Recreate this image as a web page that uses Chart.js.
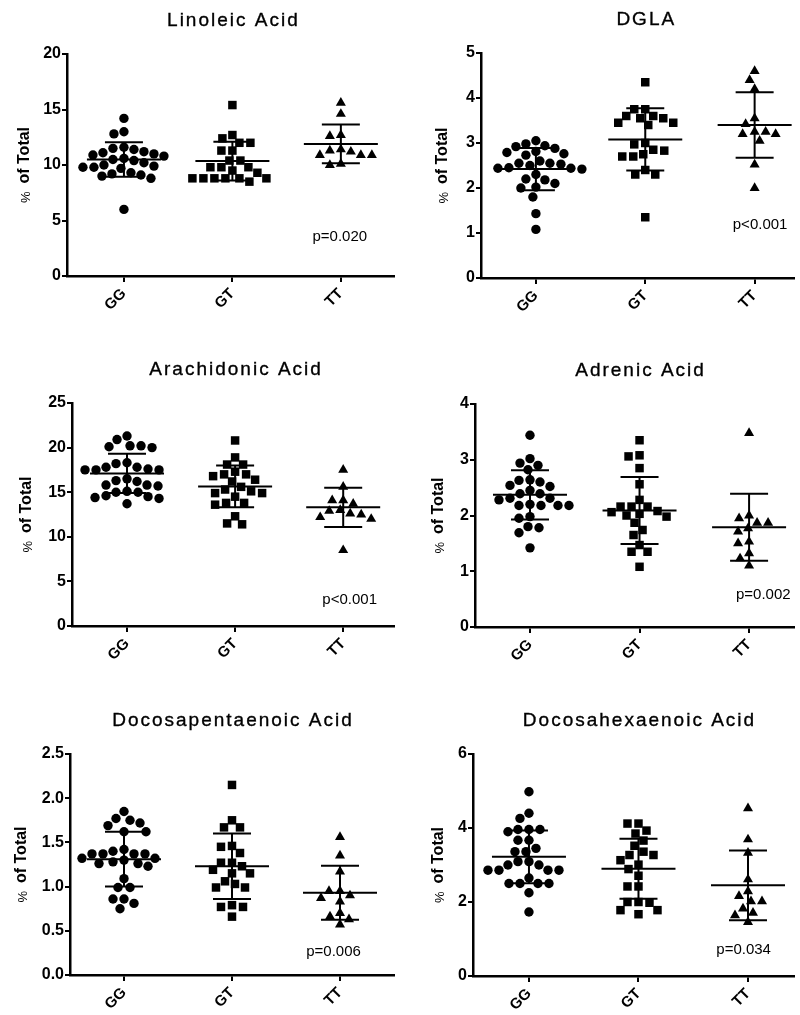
<!DOCTYPE html>
<html>
<head>
<meta charset="utf-8">
<script src="https://cdn.jsdelivr.net/npm/chart.js@4"></script>
<style>
  html, body { margin: 0; padding: 0; background: #fff; }
  #wrap { position: relative; width: 800px; height: 1015px; overflow: hidden; }
  canvas { position: absolute; }
</style>
</head>
<body>
<div id="wrap">
  <canvas id="c1" width="400" height="335" style="left:0;top:0"></canvas>
  <canvas id="c2" width="400" height="335" style="left:400px;top:0"></canvas>
  <canvas id="c3" width="400" height="335" style="left:0;top:340px"></canvas>
  <canvas id="c4" width="400" height="335" style="left:400px;top:340px"></canvas>
  <canvas id="c5" width="400" height="335" style="left:0;top:680px"></canvas>
  <canvas id="c6" width="400" height="335" style="left:400px;top:680px"></canvas>
</div>
<script>
const categories = ["GG", "GT", "TT"];

// Linoleic Acid
const linoleicGG = [14.2, 13.0, 12.8, 11.6, 11.5, 11.4, 11.2, 11.1, 11.0, 10.9, 10.8, 10.6,
  10.5, 10.4, 10.2, 10.0, 9.9, 9.8, 9.8, 9.7, 9.3, 9.2, 9.1, 9.0, 8.8, 6.0];
const linoleicGT = [15.4, 12.7, 12.4, 12.0, 12.0, 11.3, 11.3, 10.4, 10.4, 9.8, 9.8, 9.8,
  9.5, 9.3, 8.8, 8.8, 8.8, 8.8, 8.8, 8.8, 8.5];
const linoleicTT = [15.6, 14.6, 12.7, 12.6, 11.4, 11.3, 11.2, 10.9, 10.9, 10.9, 10.1, 10.0];
const linoleicMean = [10.5, 10.35, 11.9];
const linoleicSD = [1.55, 1.75, 1.75];

// DGLA
const dglaGG = [3.05, 2.98, 2.94, 2.92, 2.88, 2.81, 2.79, 2.76, 2.73, 2.6, 2.55, 2.55, 2.53,
  2.5, 2.45, 2.44, 2.44, 2.42, 2.3, 2.2, 2.18, 2.1, 2.02, 2.0, 1.8, 1.43, 1.08];
const dglaGT = [4.35, 3.75, 3.75, 3.6, 3.6, 3.55, 3.55, 3.45, 3.45, 3.4, 3.0, 2.97, 2.85,
  2.83, 2.75, 2.7, 2.7, 2.4, 2.3, 2.3, 1.35];
const dglaTT = [4.6, 4.4, 4.2, 3.55, 3.42, 3.25, 3.25, 3.2, 3.2, 3.05, 2.52, 2.0];
const dglaMean = [2.42, 3.08, 3.4];
const dglaSD = [0.47, 0.69, 0.73];

// Arachidonic Acid
const arachidonicGG = [21.3, 20.9, 20.2, 20.1, 20.0, 20.2, 18.3, 18.2, 17.8, 17.6, 17.5, 17.5,
  17.5, 17.8, 16.5, 16.2, 16.3, 15.8, 15.7, 15.8, 15.1, 15.0, 15.0, 14.6, 14.5, 14.4, 14.3, 13.7];
const arachidonicGT = [20.8, 18.9, 18.1, 18.1, 17.3, 17.0, 17.0, 16.8, 16.4, 16.2, 15.6, 15.3,
  15.1, 14.9, 14.9, 14.5, 13.8, 13.8, 13.6, 12.3, 11.5, 11.4];
const arachidonicTT = [17.5, 15.6, 14.1, 14.1, 13.7, 13.0, 12.9, 12.6, 12.5, 12.2, 12.0, 8.5];
const arachidonicMean = [17.1, 15.65, 13.3];
const arachidonicSD = [2.2, 2.35, 2.2];

// Adrenic Acid
const adrenicGG = [3.44, 3.02, 2.94, 2.9, 2.82, 2.64, 2.63, 2.6, 2.54, 2.52, 2.45, 2.39, 2.39,
  2.31, 2.31, 2.28, 2.2, 2.18, 2.18, 2.18, 2.18, 1.98, 1.95, 1.8, 1.78, 1.69, 1.42];
const adrenicGT = [3.35, 3.08, 3.06, 2.85, 2.56, 2.28, 2.16, 2.16, 2.16, 2.08, 2.06, 2.03, 2.0,
  1.98, 1.87, 1.74, 1.65, 1.47, 1.35, 1.35, 1.08];
const adrenicTT = [3.48, 2.0, 1.95, 1.87, 1.87, 1.77, 1.71, 1.53, 1.5, 1.32, 1.23, 1.1];
const adrenicMean = [2.37, 2.09, 1.79];
const adrenicSD = [0.44, 0.6, 0.6];

// Docosapentaenoic Acid
const dpaGG = [1.85, 1.77, 1.75, 1.72, 1.69, 1.62, 1.62, 1.42, 1.4, 1.37, 1.37, 1.37, 1.37,
  1.32, 1.32, 1.3, 1.28, 1.26, 1.26, 1.23, 1.09, 0.99, 0.99, 0.86, 0.86, 0.81, 0.75];
const dpaGT = [2.15, 1.75, 1.67, 1.67, 1.46, 1.45, 1.38, 1.27, 1.27, 1.23, 1.19, 1.15, 1.15,
  1.06, 1.03, 0.99, 0.99, 0.79, 0.77, 0.77, 0.66];
const dpaTT = [1.56, 1.35, 1.17, 0.95, 0.95, 0.9, 0.87, 0.83, 0.7, 0.66, 0.63, 0.57];
const dpaMean = [1.31, 1.23, 0.93];
const dpaSD = [0.31, 0.37, 0.305];

// Docosahexaenoic Acid
const dhaGG = [4.98, 4.4, 4.26, 3.96, 3.96, 3.96, 3.9, 3.67, 3.67, 3.45, 3.36, 3.36, 3.09,
  3.09, 3.0, 3.0, 2.86, 2.86, 2.86, 2.86, 2.65, 2.5, 2.5, 2.5, 2.5, 2.25, 1.73];
const dhaGT = [4.12, 4.12, 3.93, 3.85, 3.66, 3.52, 3.36, 3.27, 3.27, 3.13, 3.01, 2.89, 2.71,
  2.42, 2.42, 2.0, 2.0, 1.98, 1.78, 1.78, 1.67];
const dhaTT = [4.53, 3.69, 3.33, 2.61, 2.29, 2.16, 2.02, 2.02, 1.82, 1.71, 1.64, 1.46];
const dhaMean = [3.22, 2.9, 2.45];
const dhaSD = [0.715, 0.81, 0.94];

const titles = ["Linoleic Acid", "DGLA", "Arachidonic Acid", "Adrenic Acid",
  "Docosapentaenoic Acid", "Docosahexaenoic Acid"];
const pLabels = ["p=0.020", "p<0.001", "p<0.001", "p=0.002", "p=0.006", "p=0.034"];
const yMaxes = [20, 5, 25, 4, 2.5, 6];
const ySteps = [5, 1, 5, 1, 0.5, 2];

const panels = [
  { id: "c1", groups: [linoleicGG, linoleicGT, linoleicTT], means: linoleicMean, sds: linoleicSD },
  { id: "c2", groups: [dglaGG, dglaGT, dglaTT], means: dglaMean, sds: dglaSD },
  { id: "c3", groups: [arachidonicGG, arachidonicGT, arachidonicTT], means: arachidonicMean, sds: arachidonicSD },
  { id: "c4", groups: [adrenicGG, adrenicGT, adrenicTT], means: adrenicMean, sds: adrenicSD },
  { id: "c5", groups: [dpaGG, dpaGT, dpaTT], means: dpaMean, sds: dpaSD },
  { id: "c6", groups: [dhaGG, dhaGT, dhaTT], means: dhaMean, sds: dhaSD },
];

// where each plot sits inside its canvas
const layouts = [
  { left: 67, top: 54, bottom: 276, xMin: -0.525, xMax: 2.49, yTitleX: 25, pX: 1.99, pY: 3.5 },
  { left: 81, top: 53, bottom: 278, xMin: -0.502, xMax: 2.36, yTitleX: 43, pX: 2.05, pY: 1.18 },
  { left: 72, top: 63, bottom: 286, xMin: -0.509, xMax: 2.47, yTitleX: 27, pX: 2.06, pY: 2.9 },
  { left: 75, top: 64, bottom: 287, xMin: -0.502, xMax: 2.41, yTitleX: 39, pX: 2.13, pY: 0.57 },
  { left: 70, top: 74, bottom: 295, xMin: -0.5, xMax: 2.5, yTitleX: 22, pX: 1.94, pY: 0.26 },
  { left: 73, top: 74, bottom: 296, xMin: -0.511, xMax: 2.42, yTitleX: 39, pX: 1.96, pY: 0.7 },
];

const pointStyles = ["circle", "rect", "triangle"];
const pointSizes = [4.7, 6.0, 5.8];
const FONT = '"Liberation Sans", Arial, sans-serif';

Chart.defaults.font.family = FONT;
Chart.defaults.color = "#000";

// spread points sideways so they do not overlap (pixel space)
function swarmOffsets(values, pxPerY, pxPerX, diameter) {
  const order = values.map((v, i) => i).sort((a, b) => values[b] - values[a]);
  const placed = [];
  const offsets = new Array(values.length).fill(0);
  order.forEach((i) => {
    const py = values[i] * pxPerY;
    let best = 0;
    for (let step = 0; step < 300; step++) {
      const cands = step === 0 ? [0] : [-step, step];
      const hit = cands.find((c) =>
        placed.every((p) => (p.x - c) ** 2 + (p.y - py) ** 2 >= diameter * diameter)
      );
      if (hit !== undefined) {
        best = hit;
        break;
      }
    }
    placed.push({ x: best, y: py });
    offsets[i] = best / pxPerX;
  });
  return offsets;
}

const panelDecor = {
  id: "panelDecor",
  afterDatasetsDraw(chart, args, opts) {
    const { ctx, chartArea, scales } = chart;
    const x = scales.x;
    const y = scales.y;
    ctx.save();
    ctx.strokeStyle = "#000";
    ctx.lineWidth = 2;
    const seg = (x1, y1, x2, y2) => {
      ctx.beginPath();
      ctx.moveTo(x1, y1);
      ctx.lineTo(x2, y2);
      ctx.stroke();
    };
    opts.means.forEach((m, i) => {
      const cx = x.getPixelForValue(i);
      const ym = y.getPixelForValue(m);
      const yu = y.getPixelForValue(m + opts.sds[i]);
      const yl = y.getPixelForValue(m - opts.sds[i]);
      seg(cx - 37, ym, cx + 37, ym);
      seg(cx - 19, yu, cx + 19, yu);
      seg(cx - 19, yl, cx + 19, yl);
      seg(cx, yu, cx, yl);
    });

    ctx.fillStyle = "#000";
    ctx.textAlign = "center";
    ctx.textBaseline = "middle";
    ctx.font = "15px " + FONT;
    ctx.fillText(opts.pText, x.getPixelForValue(opts.pX), y.getPixelForValue(opts.pY));

    // y axis title: small plain "%" then bold "of Total"
    ctx.save();
    ctx.translate(opts.yTitleX, (chartArea.top + chartArea.bottom) / 2);
    ctx.rotate(-Math.PI / 2);
    ctx.textAlign = "left";
    ctx.font = "13px " + FONT;
    const wPct = ctx.measureText("%").width;
    ctx.font = "bold 16px " + FONT;
    const wRest = ctx.measureText("of Total").width;
    const gap = 8;
    const start = -(wPct + gap + wRest) / 2;
    ctx.font = "13px " + FONT;
    ctx.fillText("%", start, 1);
    ctx.font = "bold 16px " + FONT;
    ctx.fillText("of Total", start + wPct + gap, 0);
    ctx.restore();

    ctx.font = "19px " + FONT;
    ctx.letterSpacing = "2px";
    ctx.lineWidth = 0.35;
    const tx = x.getPixelForValue(1) + 1;
    const ty = chartArea.top - 33;
    ctx.fillText(opts.title, tx, ty);
    ctx.strokeText(opts.title, tx, ty);
    ctx.restore();
  },
};

panels.forEach((panel, k) => {
  const lay = layouts[k];
  const canvas = document.getElementById(panel.id);
  const H = canvas.height;
  const decimals = ySteps[k] < 1 ? 1 : 0;

  const chart = new Chart(canvas, {
    type: "scatter",
    data: {
      datasets: panel.groups.map((vals, g) => ({
        data: vals.map((v) => ({ x: g, y: v })),
        pointStyle: pointStyles[g],
        pointRadius: pointSizes[g],
        pointBackgroundColor: "#000",
        pointBorderColor: "#000",
        pointBorderWidth: 0,
      })),
    },
    options: {
      responsive: false,
      animation: false,
      events: [],
      layout: { padding: { left: 0, right: 0, top: lay.top, bottom: 0 } },
      plugins: {
        legend: { display: false },
        tooltip: { enabled: false },
        panelDecor: {
          means: panel.means,
          sds: panel.sds,
          title: titles[k],
          pText: pLabels[k],
          pX: lay.pX,
          pY: lay.pY,
          yTitleX: lay.yTitleX,
        },
      },
      scales: {
        x: {
          type: "linear",
          min: lay.xMin,
          max: lay.xMax,
          afterBuildTicks: (scale) => {
            scale.ticks = categories.map((c, i) => ({ value: i }));
          },
          afterFit: (scale) => {
            scale.height = H - lay.bottom;
            scale.paddingLeft = 0;
            scale.paddingRight = 0;
          },
          border: { display: true, color: "#000", width: 2.5 },
          grid: { display: true, drawOnChartArea: false, drawTicks: true, tickLength: 6, color: "#000", lineWidth: 2 },
          ticks: {
            autoSkip: false,
            minRotation: 45,
            maxRotation: 45,
            padding: 3,
            font: { size: 15, weight: "bold" },
            callback: (v) => categories[v],
          },
        },
        y: {
          min: 0,
          max: yMaxes[k],
          afterFit: (scale) => {
            scale.width = lay.left;
            scale.paddingTop = 0;
            scale.paddingBottom = 0;
          },
          border: { display: true, color: "#000", width: 2.5 },
          grid: { display: true, drawOnChartArea: false, drawTicks: true, tickLength: 5, color: "#000", lineWidth: 2 },
          ticks: {
            stepSize: ySteps[k],
            padding: 1,
            font: { size: 16, weight: "bold" },
            callback: (v) => Number(v).toFixed(decimals),
          },
        },
      },
    },
    plugins: [panelDecor],
  });

  const pxPerY = chart.scales.y.getPixelForValue(0) - chart.scales.y.getPixelForValue(1);
  const pxPerX = chart.scales.x.getPixelForValue(1) - chart.scales.x.getPixelForValue(0);
  panel.groups.forEach((vals, g) => {
    const offs = swarmOffsets(vals, pxPerY, pxPerX, 10.2);
    chart.data.datasets[g].data = vals.map((v, i) => ({ x: g + offs[i], y: v }));
  });
  chart.update("none");
});
</script>
</body>
</html>
